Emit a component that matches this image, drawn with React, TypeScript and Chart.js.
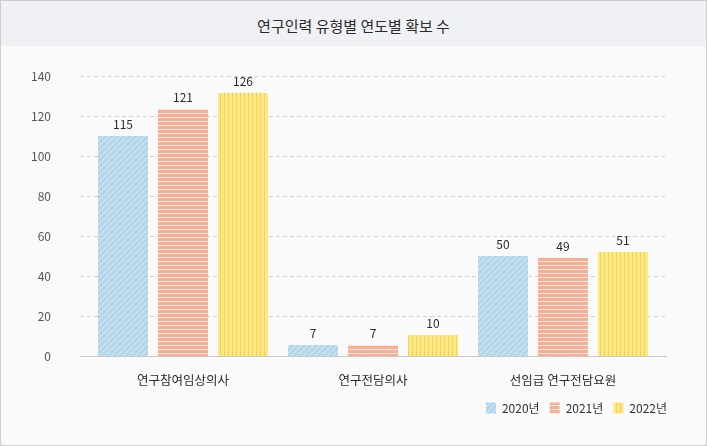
import React, { useEffect, useRef } from 'react';
import { Chart, registerables } from 'chart.js';

Chart.register(...registerables);

const titleText = '연구인력 유형별 연도별 확보 수';
const categories = ['연구참여임상의사', '연구전담의사', '선임급 연구전담요원'];
const seriesNames = ['2020년', '2021년', '2022년'];
// bar heights as drawn in the picture
const values2020 = [110, 5.5, 50];
const values2021 = [123.5, 5.5, 49];
const values2022 = [131.5, 10.5, 52];
// labels printed above the bars
const labels2020 = ['115', '7', '50'];
const labels2021 = ['121', '7', '49'];
const labels2022 = ['126', '10', '51'];
const yMin = 0;
const yMax = 140;
const yStep = 20;

const FONT = '"Noto Sans CJK KR", "Noto Sans", sans-serif';

function makePattern(kind: 'diag' | 'horiz' | 'vert'): CanvasPattern | string {
  const c = document.createElement('canvas');
  const ctx = c.getContext('2d');
  if (!ctx) return '#ccc';
  if (kind === 'diag') {
    const s = 6;
    c.width = s; c.height = s;
    ctx.fillStyle = '#b3d6ea';
    ctx.fillRect(0, 0, s, s);
    ctx.strokeStyle = 'rgba(255,255,255,0.6)';
    ctx.lineWidth = 0.9;
    ctx.beginPath();
    ctx.moveTo(-1, s + 1); ctx.lineTo(s + 1, -1);
    ctx.moveTo(-1, 1); ctx.lineTo(1, -1);
    ctx.moveTo(s - 1, s + 1); ctx.lineTo(s + 1, s - 1);
    ctx.stroke();
  } else if (kind === 'horiz') {
    c.width = 4; c.height = 4;
    ctx.fillStyle = '#f6af94';
    ctx.fillRect(0, 0, 4, 4);
    ctx.fillStyle = 'rgba(255,240,232,0.9)';
    ctx.fillRect(0, 3, 4, 1);
  } else {
    c.width = 4; c.height = 4;
    ctx.fillStyle = '#fde684';
    ctx.fillRect(0, 0, 4, 4);
    ctx.fillStyle = '#f4d45a';
    ctx.fillRect(3, 0, 1, 4);
  }
  const p = ctx.createPattern(c, 'repeat');
  return p || '#ccc';
}

const gridPlugin = {
  id: 'customGrid',
  beforeDatasetsDraw(chart: any) {
    const { ctx, chartArea, scales } = chart;
    const y = scales.y;
    ctx.save();
    ctx.strokeStyle = '#cfcfcf';
    ctx.lineWidth = 1;
    ctx.setLineDash([4, 3]);
    for (let v = yMin + yStep; v <= yMax; v += yStep) {
      const py = Math.round(y.getPixelForValue(v)) + 0.5;
      ctx.beginPath();
      ctx.moveTo(chartArea.left - 8, py);
      ctx.lineTo(chartArea.right + 7, py);
      ctx.stroke();
    }
    ctx.restore();
  },
  afterDatasetsDraw(chart: any) {
    const { ctx, chartArea, scales } = chart;
    const y = scales.y;
    ctx.save();
    ctx.strokeStyle = '#c8c8c8';
    ctx.lineWidth = 1;
    const py = Math.round(y.getPixelForValue(yMin)) + 0.5;
    ctx.beginPath();
    ctx.moveTo(chartArea.left - 8, py);
    ctx.lineTo(chartArea.right + 9, py);
    ctx.stroke();

    const allLabels = [labels2020, labels2021, labels2022];
    ctx.fillStyle = '#2b2b2b';
    ctx.font = `12px ${FONT}`;
    ctx.textAlign = 'center';
    ctx.textBaseline = 'middle';
    chart.data.datasets.forEach((ds: any, di: number) => {
      const meta = chart.getDatasetMeta(di);
      meta.data.forEach((bar: any, i: number) => {
        ctx.fillText(allLabels[di][i], bar.x, bar.y - 12);
      });
    });
    ctx.restore();
  },
};

export default function App() {
  const ref = useRef<HTMLCanvasElement | null>(null);

  useEffect(() => {
    if (!ref.current) return;
    const chart = new Chart(ref.current, {
      type: 'bar',
      data: {
        labels: categories,
        datasets: [
          { label: seriesNames[0], data: values2020, backgroundColor: makePattern('diag') as any, borderWidth: 0 },
          { label: seriesNames[1], data: values2021, backgroundColor: makePattern('horiz') as any, borderWidth: 0 },
          { label: seriesNames[2], data: values2022, backgroundColor: makePattern('vert') as any, borderWidth: 0 },
        ],
      },
      options: {
        responsive: false,
        animation: false,
        maintainAspectRatio: false,
        layout: { padding: { top: 30, right: 29, bottom: 21, left: 0 } },
        datasets: { bar: { categoryPercentage: 180 / 190, barPercentage: 50 / 60 } },
        scales: {
          x: {
            grid: { display: false },
            border: { display: false },
            ticks: { color: '#2b2b2b', font: { family: FONT, size: 12.5 }, padding: 9 },
            afterFit: (s: any) => { s.height = 36; },
          },
          y: {
            min: yMin,
            max: yMax,
            grid: { display: false },
            border: { display: false },
            ticks: { stepSize: yStep, color: '#555', font: { family: FONT, size: 12 }, padding: 29 },
            afterFit: (s: any) => {
              s.width = 87;
              s.paddingTop = 7;
              s.paddingBottom = 7;
            },
          },
          yR: {
            type: 'linear',
            position: 'right',
            display: true,
            grid: { display: false },
            border: { display: false },
            ticks: { display: false },
            afterFit: (s: any) => { s.width = 19; s.paddingTop = 0; s.paddingBottom = 0; },
          },
        },
        plugins: {
          title: { display: false },
          tooltip: { enabled: false },
          legend: {
            position: 'bottom',
            align: 'end',
            labels: {
              boxWidth: 10,
              boxHeight: 11,
              padding: 10,
              color: '#333',
              font: { family: FONT, size: 12 },
            },
          },
        },
      },
      plugins: [gridPlugin],
    } as any);
    return () => chart.destroy();
  }, []);

  return (
    <div
      style={{
        position: 'fixed',
        left: 0,
        top: 0,
        width: 707,
        height: 446,
        boxSizing: 'border-box',
        border: '1px solid #cdcdcd',
        background: '#fafafa',
        fontFamily: FONT,
        overflow: 'hidden',
      }}
    >
      <div
        style={{
          height: 45,
          background: '#f0f1f5',
          display: 'flex',
          alignItems: 'center',
          justifyContent: 'center',
          paddingTop: 3,
          boxSizing: 'border-box',
          fontSize: 15,
          color: '#2b2b2b',
        }}
      >
        {titleText}
      </div>
      <canvas ref={ref} width={705} height={399} style={{ display: 'block', width: 705, height: 399 }} />
    </div>
  );
}
